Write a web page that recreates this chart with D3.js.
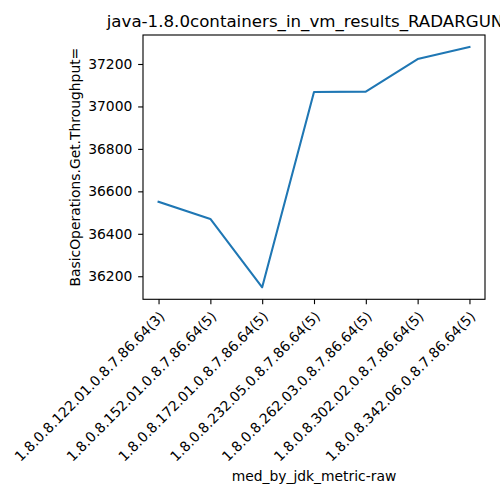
<!DOCTYPE html>
<html><head><meta charset="utf-8">
<script src="https://cdn.jsdelivr.net/npm/d3@7"></script>
<style>
body{margin:0;background:#fff}
text{font-family:"DejaVu Sans",sans-serif}
</style>
</head><body>
<svg id="c" width="500" height="500"></svg>
<script>
const categories = [
  "1.8.0.8.122.01.0.8.7.86.64(3)",
  "1.8.0.8.152.01.0.8.7.86.64(5)",
  "1.8.0.8.172.01.0.8.7.86.64(5)",
  "1.8.0.8.232.05.0.8.7.86.64(5)",
  "1.8.0.8.262.03.0.8.7.86.64(5)",
  "1.8.0.8.302.02.0.8.7.86.64(5)",
  "1.8.0.8.342.06.0.8.7.86.64(5)"
];
const values = [36551, 36470, 36148, 37068, 37070, 37223, 37280];
const yTicks = [36200, 36400, 36600, 36800, 37000, 37200];
const titleText = "java-1.8.0containers_in_vm_results_RADARGUN";
const xLabelText = "med_by_jdk_metric-raw";
const yLabelText = "BasicOperations.Get.Throughput=";

const W = 500, H = 500;
const m = {left: 143, right: 485, top: 35, bottom: 299.3};
const svg = d3.select("#c");
svg.append("rect").attr("width", W).attr("height", H).attr("fill", "#fff");

const x = d3.scalePoint().domain(categories).range([m.left, m.right]).padding(0.3);
const [lo, hi] = d3.extent(values);
const pad = (hi - lo) * 0.05;
const y = d3.scaleLinear().domain([lo - pad, hi + pad]).range([m.bottom, m.top]);

// clip
svg.append("clipPath").attr("id", "clip").append("rect")
  .attr("x", m.left).attr("y", m.top).attr("width", m.right - m.left).attr("height", m.bottom - m.top);

// line
const line = d3.line().x((d, i) => x(categories[i])).y(d => y(d));
svg.append("path").datum(values)
  .attr("d", line)
  .attr("fill", "none")
  .attr("stroke", "#1f77b4")
  .attr("stroke-width", 2.08)
  .attr("stroke-linejoin", "round")
  .attr("stroke-linecap", "square")
  .attr("clip-path", "url(#clip)");

// x axis
const gx = svg.append("g").attr("transform", `translate(0,${m.bottom})`)
  .call(d3.axisBottom(x).tickSize(4.86).tickSizeOuter(0));
gx.select(".domain").remove();
gx.selectAll(".tick line").attr("stroke", "#000").attr("stroke-width", 1.11);
gx.selectAll(".tick text")
  .attr("x", null).attr("y", null).attr("dy", null)
  .attr("fill", "#000")
  .attr("font-size", "13.89px")
  .attr("font-family", "DejaVu Sans")
  .attr("text-anchor", "end")
  .attr("transform", "translate(6.5,18) rotate(-45)");

// y axis
const gy = svg.append("g").attr("transform", `translate(${m.left},0)`)
  .call(d3.axisLeft(y).tickValues(yTicks).tickFormat(d3.format("d")).tickSize(4.86).tickPadding(5.8).tickSizeOuter(0));
gy.select(".domain").remove();
gy.selectAll(".tick line").attr("stroke", "#000").attr("stroke-width", 1.11);
gy.selectAll(".tick text")
  .attr("fill", "#000")
  .attr("font-size", "13.89px")
  .attr("font-family", "DejaVu Sans");

// frame
svg.append("rect")
  .attr("x", m.left).attr("y", m.top)
  .attr("width", m.right - m.left).attr("height", m.bottom - m.top)
  .attr("fill", "none").attr("stroke", "#000").attr("stroke-width", 1.11);

// title
svg.append("text")
  .attr("x", 106.7).attr("y", 26.7)
  .attr("text-anchor", "start")
  .attr("font-size", "16.67px")
  .attr("fill", "#000")
  .text(titleText);

// x label
svg.append("text")
  .attr("x", (m.left + m.right) / 2).attr("y", 480.5)
  .attr("text-anchor", "middle")
  .attr("font-size", "13.89px")
  .attr("fill", "#000")
  .text(xLabelText);

// y label
svg.append("text")
  .attr("transform", `translate(79.5,${(m.top + m.bottom) / 2}) rotate(-90)`)
  .attr("text-anchor", "middle")
  .attr("font-size", "13.89px")
  .attr("fill", "#000")
  .text(yLabelText);
</script>
</body></html>
